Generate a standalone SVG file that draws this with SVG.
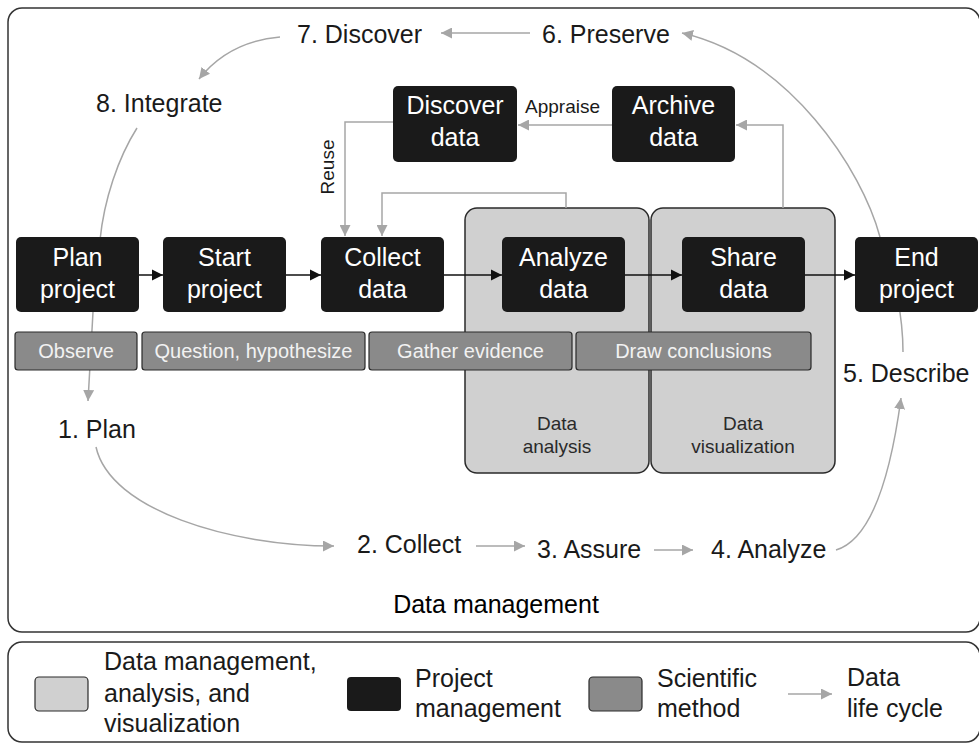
<svg xmlns="http://www.w3.org/2000/svg" width="979" height="743" viewBox="0 0 979 743">
  <defs>
    <marker id="arrow-black" viewBox="0 0 10 10" refX="10" refY="5" markerWidth="11" markerHeight="12" markerUnits="userSpaceOnUse" orient="auto">
      <path d="M0,0 L10,5 L0,10 z" fill="#111"/>
    </marker>
    <marker id="arrow-grey" viewBox="0 0 10 10" refX="10" refY="5" markerWidth="11" markerHeight="11" markerUnits="userSpaceOnUse" orient="auto">
      <path d="M0,0 L10,5 L0,10 z" fill="#a6a6a6"/>
    </marker>
    <style>
      text { font-family: "Liberation Sans", Arial, Helvetica, sans-serif; }
      .frame { fill: #fff; stroke: #333; stroke-width: 1.5; }
      .panel { fill: #d0d0d0; stroke: #2a2a2a; stroke-width: 1.5; }
      .pm { fill: #1a1a1a; }
      .sm { fill: #8a8a8a; stroke: #2a2a2a; stroke-width: 1.2; }
      .pm-text { fill: #fff; font-size: 25px; text-anchor: middle; }
      .sm-text { fill: #f2f2f2; font-size: 20px; text-anchor: middle; }
      .panel-text { fill: #2a2a2a; font-size: 19px; text-anchor: middle; }
      .cycle { fill: #1a1a1a; font-size: 25px; }
      .small { fill: #1a1a1a; font-size: 19px; }
      .legend { fill: #1a1a1a; font-size: 25px; }
      .flow { fill: none; stroke: #111; stroke-width: 1.5; marker-end: url(#arrow-black); }
      .cyc { fill: none; stroke: #a6a6a6; stroke-width: 1.5; marker-end: url(#arrow-grey); }
      .cyc-plain { fill: none; stroke: #a6a6a6; stroke-width: 1.5; }
    </style>
  </defs>

  <!-- outer frames -->
  <rect id="data-management-frame" class="frame" x="8" y="8" width="972" height="624" rx="14"/>
  <rect id="legend-frame" class="frame" x="8" y="642" width="972" height="100" rx="14"/>

  <!-- data analysis / visualization panels -->
  <g id="panel-analysis">
    <rect class="panel" x="465" y="208" width="184" height="265" rx="12"/>
    <text class="panel-text" x="557" y="430">Data</text>
    <text class="panel-text" x="557" y="453">analysis</text>
  </g>
  <g id="panel-visualization">
    <rect class="panel" x="651" y="208" width="184" height="265" rx="12"/>
    <text class="panel-text" x="743" y="430">Data</text>
    <text class="panel-text" x="743" y="453">visualization</text>
  </g>

  <!-- connectors -->
  <g id="connectors">
    <!-- project management flow -->
    <path class="flow" d="M139,275 H163"/>
    <path class="flow" d="M286,275 H321"/>
    <path class="flow" d="M444,275 H502"/>
    <path class="flow" d="M625,275 H682"/>
    <path class="flow" d="M805,275 H855"/>

    <!-- archive / reuse loops -->
    <path class="cyc" d="M612,125 H518"/>
    <path class="cyc" d="M783,208 V125 H736"/>
    <path class="cyc" d="M393,122 H345 V236"/>
    <path class="cyc" d="M566,208 V193 H382 V236"/>

    <!-- data life cycle -->
    <path class="cyc" d="M530,33 H441"/>
    <path class="cyc" d="M280,37 C 245,40 218,55 199,79"/>
    <path class="cyc" d="M137,128 C 118,158 104,200 100,240 L 93,312 L 88,401"/>
    <path class="cyc" d="M96,447 C 110,510 230,546 334,546"/>
    <path class="cyc" d="M476,546 H525"/>
    <path class="cyc" d="M654,550 H693"/>
    <path class="cyc" d="M836,550 C 870,540 890,480 901,398"/>
    <path class="cyc" d="M903,352 C 903,320 895,270 880,237 C 862,170 790,58 682,33"/>

    <!-- legend arrow -->
    <path class="cyc" d="M788,694 H832"/>
  </g>

  <!-- project management nodes -->
  <g id="plan-project">
    <rect class="pm" x="16" y="237" width="123" height="75" rx="5"/>
    <text class="pm-text" x="77.5" y="266">Plan</text>
    <text class="pm-text" x="77.5" y="298">project</text>
  </g>
  <g id="start-project">
    <rect class="pm" x="163" y="237" width="123" height="75" rx="5"/>
    <text class="pm-text" x="224.5" y="266">Start</text>
    <text class="pm-text" x="224.5" y="298">project</text>
  </g>
  <g id="collect-data">
    <rect class="pm" x="321" y="237" width="123" height="75" rx="5"/>
    <text class="pm-text" x="382.5" y="266">Collect</text>
    <text class="pm-text" x="382.5" y="298">data</text>
  </g>
  <g id="analyze-data">
    <rect class="pm" x="502" y="237" width="123" height="75" rx="5"/>
    <text class="pm-text" x="563.5" y="266">Analyze</text>
    <text class="pm-text" x="563.5" y="298">data</text>
  </g>
  <g id="share-data">
    <rect class="pm" x="682" y="237" width="123" height="75" rx="5"/>
    <text class="pm-text" x="743.5" y="266">Share</text>
    <text class="pm-text" x="743.5" y="298">data</text>
  </g>
  <g id="end-project">
    <rect class="pm" x="855" y="237" width="123" height="75" rx="5"/>
    <text class="pm-text" x="916.5" y="266">End</text>
    <text class="pm-text" x="916.5" y="298">project</text>
  </g>
  <g id="discover-data">
    <rect class="pm" x="393" y="86" width="124" height="76" rx="5"/>
    <text class="pm-text" x="455" y="114">Discover</text>
    <text class="pm-text" x="455" y="146">data</text>
  </g>
  <g id="archive-data">
    <rect class="pm" x="612" y="86" width="123" height="76" rx="5"/>
    <text class="pm-text" x="673.5" y="114">Archive</text>
    <text class="pm-text" x="673.5" y="146">data</text>
  </g>

  <!-- scientific method steps -->
  <g id="observe">
    <rect class="sm" x="15" y="332" width="122" height="38" rx="3"/>
    <text class="sm-text" x="76" y="358">Observe</text>
  </g>
  <g id="question-hypothesize">
    <rect class="sm" x="142" y="332" width="223" height="38" rx="3"/>
    <text class="sm-text" x="253.5" y="358">Question, hypothesize</text>
  </g>
  <g id="gather-evidence">
    <rect class="sm" x="369" y="332" width="203" height="38" rx="3"/>
    <text class="sm-text" x="470.5" y="358">Gather evidence</text>
  </g>
  <g id="draw-conclusions">
    <rect class="sm" x="576" y="332" width="235" height="38" rx="3"/>
    <text class="sm-text" x="693.5" y="358">Draw conclusions</text>
  </g>

  <!-- connector labels -->
  <text class="small" x="525" y="113">Appraise</text>
  <text class="small" text-anchor="middle" transform="translate(334,167) rotate(-90)">Reuse</text>

  <!-- data life cycle stages -->
  <g id="lifecycle-1"><text class="cycle" x="58" y="438">1. Plan</text></g>
  <g id="lifecycle-2"><text class="cycle" x="357" y="553">2. Collect</text></g>
  <g id="lifecycle-3"><text class="cycle" x="537" y="558">3. Assure</text></g>
  <g id="lifecycle-4"><text class="cycle" x="711" y="558">4. Analyze</text></g>
  <g id="lifecycle-5"><text class="cycle" x="843" y="382">5. Describe</text></g>
  <g id="lifecycle-6"><text class="cycle" x="542" y="43">6. Preserve</text></g>
  <g id="lifecycle-7"><text class="cycle" x="297" y="43">7. Discover</text></g>
  <g id="lifecycle-8"><text class="cycle" x="96" y="112">8. Integrate</text></g>

  <text fill="#000" font-size="25" text-anchor="middle" x="496" y="613">Data management</text>

  <!-- legend -->
  <g id="legend">
    <rect x="35" y="677" width="53" height="34" rx="4" fill="#d0d0d0" stroke="#2a2a2a" stroke-width="1.2"/>
    <text class="legend" x="104" y="670">Data management,</text>
    <text class="legend" x="104" y="702">analysis, and</text>
    <text class="legend" x="104" y="732">visualization</text>

    <rect x="347" y="677" width="54" height="34" rx="4" fill="#1a1a1a"/>
    <text class="legend" x="415" y="687">Project</text>
    <text class="legend" x="415" y="717">management</text>

    <rect x="589" y="677" width="53" height="34" rx="4" fill="#8a8a8a" stroke="#2a2a2a" stroke-width="1.2"/>
    <text class="legend" x="657" y="687">Scientific</text>
    <text class="legend" x="657" y="717">method</text>

    <text class="legend" x="847" y="686">Data</text>
    <text class="legend" x="847" y="717">life cycle</text>
  </g>
</svg>
